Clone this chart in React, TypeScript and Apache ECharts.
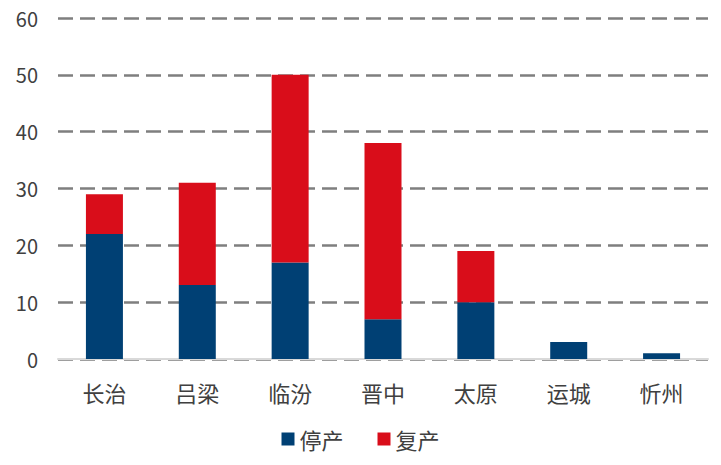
import React, { useEffect, useRef } from "react";
import * as echarts from "echarts";

const categories = ["长治", "吕梁", "临汾", "晋中", "太原", "运城", "忻州"];
const stopped = [22, 13, 17, 7, 10, 3, 1];
const resumed = [7, 18, 33, 31, 9, 0, 0];
const seriesNames = ["停产", "复产"];

export default function App() {
  const ref = useRef<HTMLDivElement>(null);
  useEffect(() => {
    const chart = echarts.init(ref.current!, null, { renderer: "svg" });
    const font = "'Microsoft YaHei', 'Noto Sans CJK SC', sans-serif";
    chart.setOption({
      animation: false,
      backgroundColor: "#ffffff",
      grid: { left: 58, right: 13, top: 18, bottom: 106 },
      legend: {
        bottom: 10,
        left: "center",
        itemWidth: 13,
        itemHeight: 13,
        itemGap: 34,
        icon: "rect",
        textStyle: { fontSize: 22, color: "#404040", fontFamily: font },
        data: seriesNames,
      },
      xAxis: {
        type: "category",
        data: categories,
        axisLine: { lineStyle: { color: "#d9d9d9", width: 2 } },
        axisTick: { show: false },
        axisLabel: { fontSize: 22, color: "#404040", fontFamily: font, margin: 22 },
      },
      yAxis: {
        type: "value",
        min: 0,
        max: 60,
        interval: 10,
        axisLine: { show: false },
        axisTick: { show: false },
        axisLabel: { fontSize: 20, color: "#404040", fontFamily: font, margin: 20 },
        splitLine: {
          lineStyle: { color: "#7f7f7f", width: 2.5, type: [15, 7] },
        },
      },
      series: [
        {
          name: seriesNames[0],
          type: "bar",
          stack: "total",
          data: stopped,
          barWidth: 37,
          itemStyle: { color: "#004074" },
        },
        {
          name: seriesNames[1],
          type: "bar",
          stack: "total",
          data: resumed,
          barWidth: 37,
          itemStyle: { color: "#d90d1a" },
        },
      ],
    });
    return () => chart.dispose();
  }, []);
  return (
    <div
      ref={ref}
      style={{ position: "fixed", left: 0, top: 0, width: 721, height: 465 }}
    />
  );
}
